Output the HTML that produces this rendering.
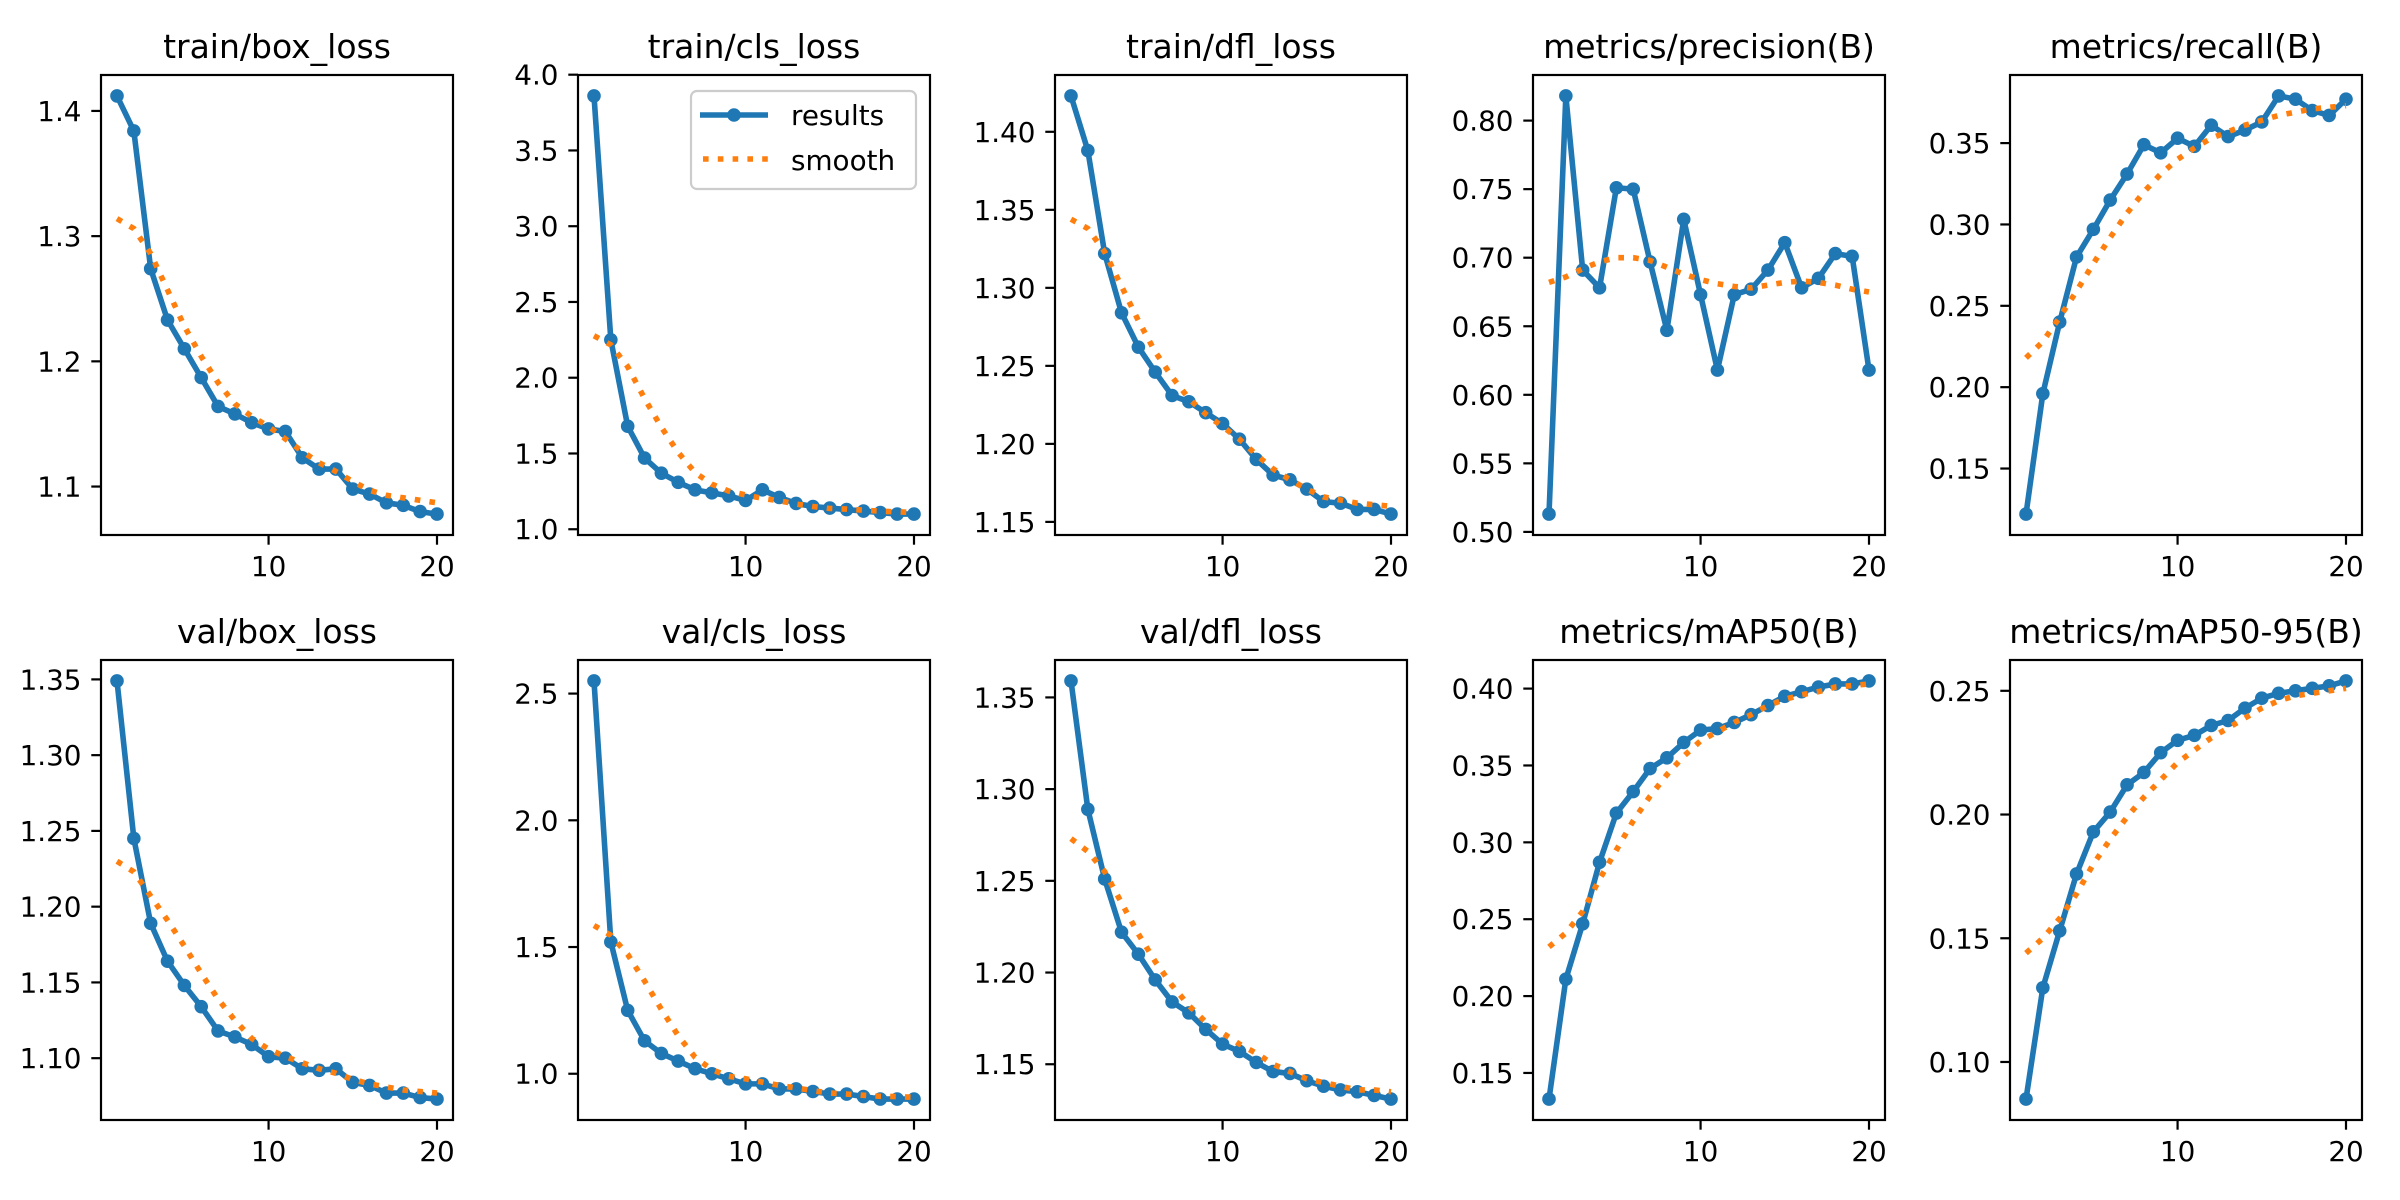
<!DOCTYPE html>
<html><head><meta charset="utf-8"><style>
html,body{margin:0;padding:0;background:#fff;}
svg{display:block;font-family:"DejaVu Sans","Liberation Sans",sans-serif;}
</style></head><body>
<svg id="fig" xmlns="http://www.w3.org/2000/svg" width="2400" height="1200" viewBox="0 0 2400 1200">
<rect x="0" y="0" width="2400" height="1200" fill="#fff"/>
</svg>
<script>
const epochs = [1,2,3,4,5,6,7,8,9,10,11,12,13,14,15,16,17,18,19,20];
const titles = ["train/box_loss","train/cls_loss","train/dfl_loss","metrics/precision(B)","metrics/recall(B)","val/box_loss","val/cls_loss","val/dfl_loss","metrics/mAP50(B)","metrics/mAP50-95(B)"];
const trainBox = [1.412,1.384,1.274,1.233,1.210,1.187,1.164,1.158,1.151,1.146,1.144,1.123,1.114,1.114,1.098,1.094,1.087,1.085,1.080,1.078];
const trainBoxSmooth = [1.314,1.306,1.286,1.257,1.228,1.204,1.183,1.166,1.156,1.148,1.138,1.128,1.119,1.112,1.104,1.097,1.093,1.091,1.089,1.087];
const trainCls = [3.86,2.25,1.68,1.47,1.37,1.31,1.26,1.24,1.22,1.19,1.26,1.21,1.17,1.15,1.14,1.13,1.12,1.11,1.10,1.10];
const trainClsSmooth = [2.277,2.217,2.073,1.863,1.673,1.507,1.374,1.297,1.252,1.226,1.204,1.188,1.166,1.150,1.137,1.133,1.126,1.119,1.115,1.110];
const trainDfl = [1.423,1.388,1.322,1.284,1.262,1.246,1.231,1.227,1.220,1.213,1.203,1.190,1.180,1.177,1.171,1.163,1.162,1.158,1.158,1.155];
const trainDflSmooth = [1.344,1.338,1.323,1.301,1.279,1.259,1.243,1.229,1.219,1.211,1.203,1.193,1.184,1.177,1.171,1.166,1.164,1.162,1.161,1.160];
const precision = [0.513,0.818,0.691,0.678,0.751,0.750,0.697,0.647,0.728,0.673,0.618,0.673,0.677,0.691,0.711,0.678,0.685,0.703,0.701,0.618];
const precisionSmooth = [0.682,0.686,0.692,0.697,0.700,0.700,0.698,0.693,0.688,0.684,0.681,0.679,0.678,0.680,0.682,0.683,0.682,0.680,0.677,0.675];
const recall = [0.122,0.196,0.240,0.280,0.297,0.315,0.331,0.349,0.344,0.353,0.348,0.361,0.354,0.358,0.363,0.379,0.377,0.370,0.367,0.377];
const recallSmooth = [0.218,0.228,0.243,0.259,0.276,0.292,0.307,0.320,0.331,0.340,0.347,0.353,0.357,0.361,0.364,0.367,0.369,0.371,0.372,0.373];
const valBox = [1.349,1.245,1.189,1.164,1.148,1.134,1.118,1.114,1.109,1.101,1.100,1.093,1.092,1.093,1.084,1.082,1.077,1.077,1.074,1.073];
const valBoxSmooth = [1.230,1.223,1.207,1.191,1.174,1.156,1.139,1.125,1.113,1.106,1.101,1.097,1.093,1.090,1.086,1.083,1.081,1.079,1.078,1.077];
const valCls = [2.55,1.52,1.25,1.13,1.08,1.05,1.02,1.00,0.98,0.96,0.96,0.94,0.94,0.93,0.92,0.92,0.91,0.90,0.90,0.90];
const valClsSmooth = [1.585,1.546,1.471,1.366,1.254,1.150,1.065,1.016,0.990,0.980,0.967,0.954,0.944,0.933,0.924,0.920,0.915,0.911,0.910,0.907];
const valDfl = [1.359,1.289,1.251,1.222,1.210,1.196,1.184,1.178,1.169,1.161,1.157,1.151,1.146,1.145,1.141,1.138,1.136,1.135,1.133,1.131];
const valDflSmooth = [1.273,1.266,1.255,1.238,1.221,1.206,1.193,1.182,1.173,1.167,1.161,1.156,1.150,1.146,1.142,1.140,1.138,1.136,1.136,1.135];
const map50 = [0.133,0.211,0.247,0.287,0.319,0.333,0.348,0.355,0.365,0.373,0.374,0.378,0.383,0.389,0.395,0.398,0.401,0.403,0.403,0.405];
const map50Smooth = [0.232,0.241,0.255,0.276,0.295,0.314,0.330,0.344,0.356,0.366,0.372,0.378,0.383,0.389,0.393,0.396,0.398,0.401,0.402,0.403];
const map5095 = [0.085,0.130,0.153,0.176,0.193,0.201,0.212,0.217,0.225,0.230,0.232,0.236,0.238,0.243,0.247,0.249,0.250,0.251,0.252,0.254];
const map5095Smooth = [0.144,0.150,0.158,0.168,0.180,0.190,0.199,0.207,0.214,0.221,0.226,0.231,0.235,0.239,0.243,0.246,0.248,0.249,0.250,0.251];
const yTicks = [
 ["1.1","1.2","1.3","1.4"],
 ["1.0","1.5","2.0","2.5","3.0","3.5","4.0"],
 ["1.15","1.20","1.25","1.30","1.35","1.40"],
 ["0.50","0.55","0.60","0.65","0.70","0.75","0.80"],
 ["0.15","0.20","0.25","0.30","0.35"],
 ["1.10","1.15","1.20","1.25","1.30","1.35"],
 ["1.0","1.5","2.0","2.5"],
 ["1.15","1.20","1.25","1.30","1.35"],
 ["0.15","0.20","0.25","0.30","0.35","0.40"],
 ["0.10","0.15","0.20","0.25"]
];
const xTicks = ["10","20"];

const resultsSeries = [trainBox,trainCls,trainDfl,precision,recall,valBox,valCls,valDfl,map50,map5095];
const smoothSeries = [trainBoxSmooth,trainClsSmooth,trainDflSmooth,precisionSmooth,recallSmooth,valBoxSmooth,valClsSmooth,valDflSmooth,map50Smooth,map5095Smooth];

const NS = "http://www.w3.org/2000/svg";
const svg = document.getElementById("fig");
function mk(tag, attrs, parent){
  const e = document.createElementNS(NS, tag);
  for (const k in attrs) e.setAttribute(k, attrs[k]);
  (parent||svg).appendChild(e);
  return e;
}
const colLeft = [101,578,1055,1533,2010];
const rowTop = [75,660];
const W = 352, H = 460;
const xMin = 0.05, xMax = 20.95;

for (let i = 0; i < 10; i++) {
  const L = colLeft[i % 5], T = rowTop[Math.floor(i / 5)];
  const g = mk("g", {});
  
  
  const r = resultsSeries[i], s = smoothSeries[i];
  const all = r.concat(s);
  let lo = Math.min(...all), hi = Math.max(...all);
  const pad = (hi - lo) * 0.05; lo -= pad; hi += pad;
  const xs = v => L + (v - xMin) / (xMax - xMin) * W;
  const ys = v => T + H - (v - lo) / (hi - lo) * H;

  const t = mk("text", {x: L + W/2, y: T - 17, "text-anchor":"middle", "font-size":"33px", fill:"#000"}, g);
  t.textContent = titles[i];
  
  

  const cid = "clip" + i;
  const cp = mk("clipPath", {id: cid}, g);
  mk("rect", {x: L, y: T, width: W, height: H}, cp);

  yTicks[i].forEach(lbl => {
    const v = parseFloat(lbl), y = ys(v);
    const tk = mk("line", {x1: L - 9.7, x2: L, y1: y, y2: y, stroke:"#000", "stroke-width":2.2}, g);
    
    
    const tl = mk("text", {x: L - 19.5, y: y + 10, "text-anchor":"end", "font-size":"27.8px", fill:"#000"}, g);
    tl.textContent = lbl;
    
    
  });
  xTicks.forEach(lbl => {
    const x = xs(parseFloat(lbl));
    const tk = mk("line", {x1: x, x2: x, y1: T + H, y2: T + H + 9.7, stroke:"#000", "stroke-width":2.2}, g);
    
    
    const tl = mk("text", {x: x, y: T + H + 41, "text-anchor":"middle", "font-size":"27.8px", fill:"#000"}, g);
    tl.textContent = lbl;
    
    
  });

  const pg = mk("g", {"clip-path": "url(#" + cid + ")"}, g);
  const pts = r.map((v, k) => xs(epochs[k]).toFixed(2) + "," + ys(v).toFixed(2)).join(" ");
  const pl = mk("polyline", {points: pts, fill:"none", stroke:"#1f77b4", "stroke-width":5.6, "stroke-linejoin":"round"}, pg);
  
  
  r.forEach((v, k) => {
    const c = mk("circle", {cx: xs(epochs[k]), cy: ys(v), r: 6.8, fill:"#1f77b4"}, pg);
    
    
  });
  const sp = s.map((v, k) => xs(epochs[k]).toFixed(2) + "," + ys(v).toFixed(2)).join(" ");
  const sl = mk("polyline", {points: sp, fill:"none", stroke:"#ff7f0e", "stroke-width":5.6, "stroke-dasharray":"5.6 9.2"}, pg);
  
  

  const fr = mk("rect", {x: L, y: T, width: W, height: H, fill:"none", stroke:"#000", "stroke-width":2.2}, g);
  
  
}

const lg = mk("g", {});


mk("rect", {x: 691, y: 91, width: 225, height: 98, rx: 6, fill:"#fff", "fill-opacity":0.8, stroke:"#cccccc", "stroke-width":2.2}, lg);
const le1 = mk("g", {}, lg);


mk("line", {x1: 700, x2: 768, y1: 115, y2: 115, stroke:"#1f77b4", "stroke-width":5.6}, le1);
mk("circle", {cx: 734, cy: 115, r: 6.8, fill:"#1f77b4"}, le1);
const lt1 = mk("text", {x: 791, y: 125, "font-size":"27.8px", fill:"#000"}, le1);
lt1.textContent = "results";
const le2 = mk("g", {}, lg);


mk("line", {x1: 703, x2: 768, y1: 159, y2: 159, stroke:"#ff7f0e", "stroke-width":5.6, "stroke-dasharray":"5.6 9.2"}, le2);
const lt2 = mk("text", {x: 791, y: 170, "font-size":"27.8px", fill:"#000"}, le2);
lt2.textContent = "smooth";
</script>
</body></html>
